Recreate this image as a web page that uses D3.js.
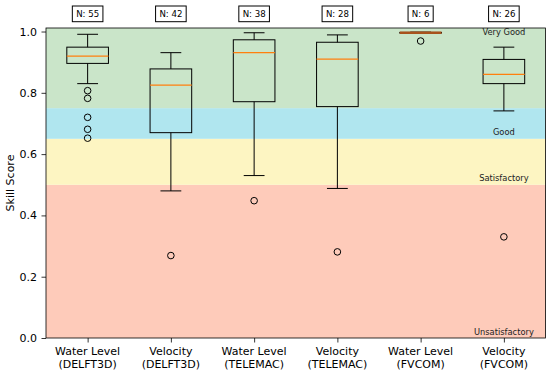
<!DOCTYPE html>
<html>
<head>
<meta charset="utf-8">
<script src="https://cdn.jsdelivr.net/npm/d3@7"></script>
<style>
  body { margin: 0; background: #fff; }
  svg { display: block; font-family: "DejaVu Sans", sans-serif; }
</style>
</head>
<body>
<svg id="chart" width="550" height="375"></svg>
<script>
// categories and box stats
var labelsTop = ['Water Level', 'Velocity', 'Water Level', 'Velocity', 'Water Level', 'Velocity'];
var labelsBottom = ['(DELFT3D)', '(DELFT3D)', '(TELEMAC)', '(TELEMAC)', '(FVCOM)', '(FVCOM)'];
var counts = [55, 42, 38, 28, 6, 26];
var whiskLo = [0.830, 0.480, 0.530, 0.488, 0.994, 0.741];
var q1 = [0.896, 0.670, 0.771, 0.755, 0.995, 0.830];
var median = [0.920, 0.825, 0.931, 0.910, 0.996, 0.860];
var q3 = [0.949, 0.878, 0.973, 0.965, 0.997, 0.909];
var whiskHi = [0.991, 0.931, 0.996, 0.989, 0.998, 0.949];
var outliers = [[0.807, 0.782, 0.720, 0.681, 0.652], [0.269], [0.448], [0.281], [0.969], [0.330]];

var bandNames = ['Unsatisfactory', 'Satisfactory', 'Good', 'Very Good'];
var bandLo = [0.0, 0.5, 0.65, 0.75];
var bandHi = [0.5, 0.65, 0.75, 1.02];
var bandColors = ['#fecbba', '#fdf5c2', '#b0e6ef', '#cae5c9'];
var bandLabelY = [0.018, 0.522, 0.672, 0.998];
var yTicks = [0.0, 0.2, 0.4, 0.6, 0.8, 1.0];

var svg = d3.select('#chart');
var margin = {left: 46, right: 4.5, top: 28, bottom: 37};
var W = 550, H = 375;
var yTop = 1.0115;

var x = d3.scaleLinear().domain([0.5, 6.5]).range([margin.left, W - margin.right]);
var y = d3.scaleLinear().domain([0, yTop]).range([H - margin.bottom, margin.top]);

var g = svg.append('g');

// colour bands
g.selectAll('rect.band').data(bandNames).enter().append('rect')
    .attr('class', 'band')
    .attr('x', x(0.5))
    .attr('width', x(6.5) - x(0.5))
    .attr('y', function(d, i) { return y(Math.min(bandHi[i], yTop)); })
    .attr('height', function(d, i) { return y(bandLo[i]) - y(Math.min(bandHi[i], yTop)); })
    .attr('fill', function(d, i) { return bandColors[i]; });

// band labels
g.selectAll('text.bandlab').data(bandNames).enter().append('text')
    .attr('x', x(6))
    .attr('y', function(d, i) { return y(bandLabelY[i]); })
    .attr('dy', '0.35em')
    .attr('text-anchor', 'middle')
    .attr('font-size', 8.3)
    .attr('fill', '#222')
    .text(function(d) { return d; });

// boxes
var idx = d3.range(6);
var half = 0.25, cap = 0.125;
var boxes = g.selectAll('g.box').data(idx).enter().append('g').attr('class', 'box');

function vline(sel, a, b) {
    sel.append('line')
        .attr('x1', function(i) { return x(i + 1); }).attr('x2', function(i) { return x(i + 1); })
        .attr('y1', function(i) { return y(a[i]); }).attr('y2', function(i) { return y(b[i]); })
        .attr('stroke', '#000').attr('stroke-width', 1);
}
function hline(sel, v, w) {
    return sel.append('line')
        .attr('x1', function(i) { return x(i + 1 - w); }).attr('x2', function(i) { return x(i + 1 + w); })
        .attr('y1', function(i) { return y(v[i]); }).attr('y2', function(i) { return y(v[i]); })
        .attr('stroke', '#000').attr('stroke-width', 1);
}
vline(boxes, q3, whiskHi);
vline(boxes, q1, whiskLo);
hline(boxes, whiskHi, cap);
hline(boxes, whiskLo, cap);
boxes.append('rect')
    .attr('x', function(i) { return x(i + 1 - half); })
    .attr('width', function(i) { return x(i + 1 + half) - x(i + 1 - half); })
    .attr('y', function(i) { return y(q3[i]); })
    .attr('height', function(i) { return y(q1[i]) - y(q3[i]); })
    .attr('fill', 'none').attr('stroke', '#000').attr('stroke-width', 1);
hline(boxes, median, half)
    .attr('stroke', function(i) { return counts[i] < 10 ? '#a8521c' : '#ff7f0e'; })
    .attr('stroke-width', function(i) { return counts[i] < 10 ? 2.5 : 1.3; });

boxes.each(function(i) {
    d3.select(this).selectAll('circle').data(outliers[i]).enter().append('circle')
        .attr('cx', x(i + 1))
        .attr('cy', function(v) { return y(v); })
        .attr('r', 3.3)
        .attr('fill', 'none').attr('stroke', '#000').attr('stroke-width', 1);
});

// N labels above axes
var nl = svg.selectAll('g.nlab').data(idx).enter().append('g').attr('class', 'nlab');
nl.append('text')
    .attr('x', function(i) { return x(i + 1); })
    .attr('y', 17.3)
    .attr('text-anchor', 'middle')
    .attr('font-size', 8.6)
    .attr('fill', '#000')
    .text(function(i) { return 'N: ' + counts[i]; });
nl.each(function() {
    var b = d3.select(this).select('text').node().getBBox();
    d3.select(this).insert('rect', 'text')
        .attr('x', b.x - 3.8).attr('y', 6)
        .attr('width', b.width + 7.6).attr('height', 15.7)
        .attr('fill', '#fff').attr('stroke', '#000').attr('stroke-width', 1);
});

// axes
var yAxis = svg.append('g')
    .attr('transform', 'translate(' + x(0.5) + ',0)')
    .call(d3.axisLeft(y).tickValues(yTicks).tickFormat(d3.format('.1f')).tickSize(4.5).tickPadding(4.5));
var xAxis = svg.append('g')
    .attr('transform', 'translate(0,' + y(0) + ')')
    .call(d3.axisBottom(x).tickValues(idx.map(function(i) { return i + 1; })).tickFormat('').tickSize(4.5));
[yAxis, xAxis].forEach(function(a) {
    a.select('.domain').remove();
    a.selectAll('line').attr('stroke', '#000').attr('stroke-width', 0.8);
});
yAxis.selectAll('text').attr('font-size', 11).attr('fill', '#000').attr('font-family', 'DejaVu Sans');

// two-line x labels
var xl = svg.selectAll('text.xlab').data(idx).enter().append('text')
    .attr('class', 'xlab')
    .attr('text-anchor', 'middle')
    .attr('font-size', 11)
    .attr('fill', '#000');
xl.append('tspan').attr('x', function(i) { return x(i + 1); }).attr('y', 355)
    .text(function(i) { return labelsTop[i]; });
xl.append('tspan').attr('x', function(i) { return x(i + 1); }).attr('y', 367.5)
    .text(function(i) { return labelsBottom[i]; });

// frame
svg.append('rect')
    .attr('x', x(0.5)).attr('y', y(yTop))
    .attr('width', x(6.5) - x(0.5)).attr('height', y(0) - y(yTop))
    .attr('fill', 'none').attr('stroke', '#000').attr('stroke-width', 0.8);

svg.append('text')
    .attr('transform', 'translate(10,' + ((y(0) + y(yTop)) / 2) + ') rotate(-90)')
    .attr('text-anchor', 'middle')
    .attr('dy', '0.35em')
    .attr('font-size', 11)
    .attr('fill', '#000')
    .text('Skill Score');
</script>
</body>
</html>
